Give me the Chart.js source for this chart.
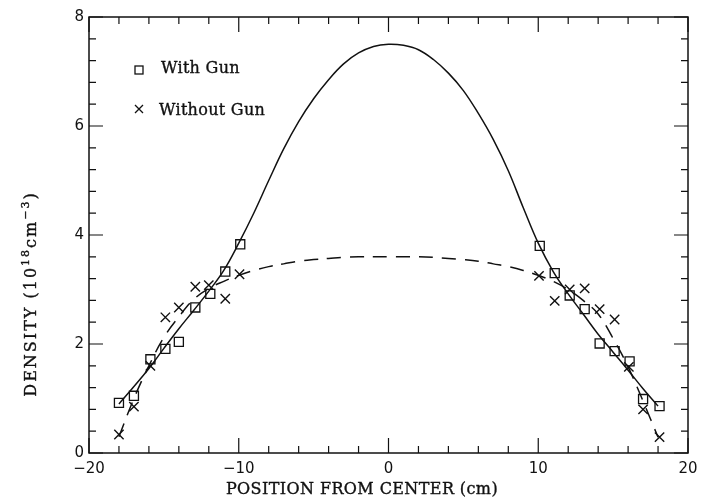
<!DOCTYPE html>
<html>
<head>
<meta charset="utf-8">
<script src="https://cdn.jsdelivr.net/npm/chart.js@4/dist/chart.umd.min.js"></script>
<style>
  html, body { margin: 0; padding: 0; background: #fff; }
  #wrap { width: 709px; height: 502px; }
</style>
</head>
<body>
<div id="wrap"><canvas id="c" width="709" height="502"></canvas></div>
<script>
// Density profile, with and without the gun.
// Points and fitted curves.

const withGunX = [-18, -17, -15.9, -14.9, -14, -12.9, -11.9, -10.9, -9.9, 10.1, 11.1, 12.1, 13.1, 14.1, 15.1, 16.1, 17, 18.1];
const withGunY = [0.92, 1.05, 1.72, 1.91, 2.04, 2.67, 2.92, 3.33, 3.83, 3.80, 3.30, 2.89, 2.64, 2.01, 1.87, 1.68, 0.99, 0.86];

const noGunX = [-18, -17, -15.9, -14.9, -14, -12.9, -12, -10.9, -9.95, 10.05, 11.1, 12.1, 13.1, 14.1, 15.1, 16.05, 17, 18.1];
const noGunY = [0.34, 0.85, 1.60, 2.49, 2.67, 3.05, 3.08, 2.83, 3.28, 3.25, 2.79, 3.00, 3.02, 2.64, 2.45, 1.58, 0.80, 0.29];

// curves, sampled every 1 cm
const curveX = [-18, -17, -16, -15, -14, -13, -12, -11, -10, -9, -8, -7, -6, -5, -4, -3, -2, -1, 0,
                1, 2, 3, 4, 5, 6, 7, 8, 9, 10, 11, 12, 13, 14, 15, 16, 17, 18];
const withGunFit = [0.9, 1.22, 1.55, 1.92, 2.28, 2.62, 2.97, 3.35, 3.85, 4.4, 5.0, 5.58, 6.08, 6.5, 6.85, 7.14, 7.34, 7.46, 7.5,
                    7.48, 7.4, 7.22, 6.97, 6.65, 6.23, 5.75, 5.18, 4.5, 3.85, 3.33, 2.92, 2.55, 2.18, 1.85, 1.52, 1.18, 0.86];
const noGunFit = [0.3, 1.0, 1.6, 2.12, 2.5, 2.82, 3.02, 3.15, 3.26, 3.35, 3.42, 3.47, 3.52, 3.55, 3.57, 3.59, 3.6, 3.6, 3.6,
                  3.6, 3.6, 3.59, 3.57, 3.55, 3.52, 3.47, 3.42, 3.35, 3.26, 3.15, 3.0, 2.8, 2.55, 2.1, 1.58, 0.95, 0.29];

const xTicks = [-20, -10, 0, 10, 20];
const yTicks = [0, 2, 4, 6, 8];

const X_TITLE = 'POSITION FROM CENTER (cm)';
// y title in pieces: [text, superscript?]
const Y_TITLE = [['DENSITY (10', false], ['18', true], ['cm', false], ['\u22123', true], [')', false]];
const LEGEND = ['With Gun', 'Without Gun'];

const INK = '#111';
const SERIF = '"DejaVu Serif", serif';

function pts(xs, ys) { return xs.map((x, i) => ({ x, y: ys[i] })); }

function heavyText(ctx, s, x, y) {
  ctx.fillText(s, x, y);
  ctx.strokeText(s, x, y);
}

// frame, inward ticks on all four sides, titles and the legend
const decor = {
  id: 'decor',
  afterDraw(chart) {
    const { ctx, chartArea: a, scales: { x, y } } = chart;
    ctx.save();
    ctx.strokeStyle = INK;
    ctx.lineWidth = 1.5;
    ctx.strokeRect(a.left, a.top, a.right - a.left, a.bottom - a.top);

    ctx.lineWidth = 1.2;
    ctx.beginPath();
    for (let i = 0; i <= 20; i++) {
      const v = i * 0.4;
      const py = y.getPixelForValue(v);
      const len = i % 5 === 0 ? 14 : 7;
      ctx.moveTo(a.left, py); ctx.lineTo(a.left + len, py);
      ctx.moveTo(a.right, py); ctx.lineTo(a.right - len, py);
    }
    for (let v = -20; v <= 20; v += 2) {
      const px = x.getPixelForValue(v);
      const len = v % 10 === 0 ? 15 : 7;
      ctx.moveTo(px, a.bottom); ctx.lineTo(px, a.bottom - len);
      ctx.moveTo(px, a.top); ctx.lineTo(px, a.top + len);
    }
    ctx.stroke();

    ctx.fillStyle = INK;
    ctx.lineWidth = 0.35;
    ctx.textBaseline = 'middle';

    // x title
    ctx.font = '16px ' + SERIF;
    ctx.letterSpacing = '0.4px';
    ctx.textAlign = 'center';
    heavyText(ctx, X_TITLE, 362, 490);

    // y title, rotated, with real superscripts
    ctx.save();
    ctx.translate(30, 294);
    ctx.rotate(-Math.PI / 2);
    ctx.textAlign = 'left';
    ctx.textBaseline = 'alphabetic';
    ctx.letterSpacing = '2px';
    const parts = Y_TITLE.map(([s, sup]) => {
      ctx.font = (sup ? '11px ' : '16px ') + SERIF;
      return { s, sup, w: ctx.measureText(s).width };
    });
    let cx = -parts.reduce((t, p) => t + p.w, 0) / 2;
    for (const p of parts) {
      ctx.font = (p.sup ? '11px ' : '16px ') + SERIF;
      heavyText(ctx, p.s, cx, p.sup ? -1 : 6);
      cx += p.w;
    }
    ctx.restore();

    // legend
    ctx.font = '16px ' + SERIF;
    ctx.letterSpacing = '0.3px';
    ctx.textAlign = 'left';
    heavyText(ctx, LEGEND[0], 161, 69);
    heavyText(ctx, LEGEND[1], 159, 111);
    ctx.lineWidth = 1.3;
    ctx.strokeRect(135, 66, 8, 8);
    ctx.beginPath();
    ctx.moveTo(135, 105); ctx.lineTo(143, 113);
    ctx.moveTo(143, 105); ctx.lineTo(135, 113);
    ctx.stroke();
    ctx.restore();
  },
};

new Chart(document.getElementById('c'), {
  type: 'scatter',
  data: {
    datasets: [
      {
        label: 'With Gun fit',
        data: pts(curveX, withGunFit),
        showLine: true,
        borderColor: INK,
        borderWidth: 1.5,
        pointRadius: 0,
        tension: 0.4,
      },
      {
        label: 'Without Gun fit',
        data: pts(curveX, noGunFit),
        showLine: true,
        borderColor: INK,
        borderWidth: 1.5,
        borderDash: [14, 9],
        pointRadius: 0,
        tension: 0.4,
      },
      {
        label: LEGEND[0],
        data: pts(withGunX, withGunY),
        pointStyle: 'rect',
        pointRadius: 6.4,
        pointBorderWidth: 1.3,
        pointBorderColor: INK,
        pointBackgroundColor: 'rgba(0,0,0,0)',
      },
      {
        label: LEGEND[1],
        data: pts(noGunX, noGunY),
        pointStyle: 'crossRot',
        pointRadius: 6.6,
        pointBorderWidth: 1.4,
        pointBorderColor: INK,
        pointBackgroundColor: 'rgba(0,0,0,0)',
      },
    ],
  },
  options: {
    responsive: false,
    animation: false,
    events: [],
    layout: { padding: { top: 17, right: 21, left: 0, bottom: 0 } },
    plugins: { legend: { display: false }, tooltip: { enabled: false } },
    scales: {
      x: {
        type: 'linear',
        min: -20, max: 20,
        afterBuildTicks: s => { s.ticks = xTicks.map(v => ({ value: v })); },
        afterFit: s => { s.height = 49; },
        grid: { display: false, drawTicks: false },
        border: { display: false },
        ticks: {
          color: INK,
          padding: 7,
          maxRotation: 0,
          font: { family: '"DejaVu Sans", sans-serif', size: 15 },
          callback: v => String(v).replace('-', '\u2212'),
        },
      },
      y: {
        type: 'linear',
        min: 0, max: 8,
        afterBuildTicks: s => { s.ticks = yTicks.map(v => ({ value: v })); },
        afterFit: s => { s.width = 89; },
        grid: { display: false, drawTicks: false },
        border: { display: false },
        ticks: {
          color: INK,
          padding: 5,
          font: { family: '"DejaVu Sans", sans-serif', size: 15 },
        },
      },
    },
  },
  plugins: [decor],
});
</script>
</body>
</html>
